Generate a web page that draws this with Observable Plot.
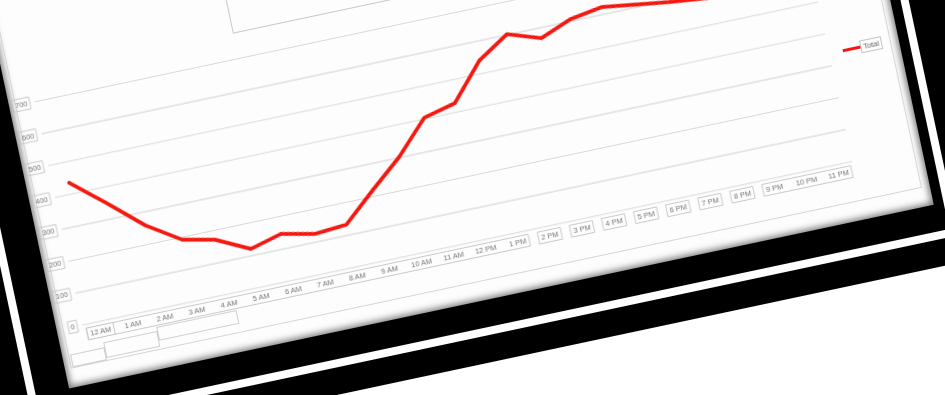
<!DOCTYPE html>
<html>
<head>
<meta charset="utf-8">
<script src="https://cdn.jsdelivr.net/npm/d3@7"></script>
<script src="https://cdn.jsdelivr.net/npm/@observablehq/plot@0.6"></script>
<style>
  html, body { margin: 0; padding: 0; background: #ffffff; }
  body { width: 945px; height: 395px; overflow: hidden; position: relative; }
  #scene { position: absolute; left: 84px; top: 324px; width: 2000px; height: 0;
           transform: rotate(-12deg); transform-origin: 0 0; filter: blur(0.45px); }
  .blk { position: absolute; }
</style>
</head>
<body>
<div id="scene"></div>
<script>
// ---- data ----
const hours = ["12 AM","1 AM","2 AM","3 AM","4 AM","5 AM","6 AM","7 AM","8 AM","9 AM","10 AM","11 AM",
               "12 PM","1 PM","2 PM","3 PM","4 PM","5 PM","6 PM","7 PM","8 PM","9 PM","10 PM","11 PM"];
const totals = [435, 349, 259, 193, 171, 121, 147, 125, 133, 219, 302, 404,
                428, 540, 602, 568, 607, 623, 609, 595, 585, 575, 565, 550];
const yTicks = [0, 100, 200, 300, 400, 500, 600, 700];
const seriesName = "Total";
// groups of x tick labels that share one outline box (indices into hours)
const xLabelGroups = [[0, 13], [0, 0], [14, 14], [15, 15], [16, 16], [17, 17], [18, 18], [19, 19], [20, 20], [21, 23]];

// ---- layout (local, rotated frame; origin = plot left edge at value 0) ----
const plotW = 787.2, plotH = 228.2;
const ML = 40, MR = 10, MT = 12, MB = 40;
const scene = document.getElementById("scene");

function box(l, t, r, b, style) {
  const d = document.createElement("div");
  d.className = "blk";
  d.style.left = l + "px"; d.style.top = t + "px";
  d.style.width = (r - l) + "px"; d.style.height = (b - t) + "px";
  Object.assign(d.style, style || {});
  scene.appendChild(d);
  return d;
}
// frame layers
box(-150, -700, 960, 122, {background: "#000"});
box(-70, -700, 874, 95, {background: "#fff"});
box(-62, -700, 866, 87, {background: "#000"});
box(-28, -700, 856, 60, {background: "#fdfdfd", boxShadow: "inset 0 0 7px 2px rgba(0,0,0,0.55)"});
box(-22, -400, 848, 41, {border: "1px solid #d6d6d6", boxSizing: "border-box"});
// bottom field-button boxes
box(-20, 27, 15, 40, {border: "1px solid #d0d0d0", boxSizing: "border-box"});
box(15, 22, 70, 38, {border: "1px solid #d0d0d0", boxSizing: "border-box"});
box(70, 18, 152, 32, {border: "1px solid #d0d0d0", boxSizing: "border-box"});
// chart title box (top, mostly out of view)
box(206, -330, 585, -253, {border: "1px solid #c8c8c8", boxSizing: "border-box", background: "#fdfdfd"});

// ---- plot ----
const data = hours.map((h, i) => ({hour: h, total: totals[i]}));
const chart = Plot.plot({
  width: ML + plotW + MR,
  height: MT + plotH + MB,
  marginLeft: ML, marginRight: MR, marginTop: MT, marginBottom: MB,
  style: {background: "transparent", fontFamily: "Liberation Sans", fontSize: "7.5px", color: "#7a7a7a", overflow: "visible", maxWidth: "none"},
  x: {type: "point", domain: hours, padding: 0.5, round: false, label: null},
  y: {domain: [0, 700], label: null},
  marks: [
    Plot.ruleY(yTicks, {stroke: "#d9d9d9", strokeWidth: 1.1}),
    Plot.axisY(yTicks, {tickSize: 0, tickPadding: 8, fill: "#777", label: null}),
    Plot.axisX({tickSize: 0, tickPadding: 7, fill: "#777", label: null}),
    Plot.line(data, {x: "hour", y: "total", stroke: "#f31810", strokeWidth: 3.8, strokeLinejoin: "round"})
  ]
});
chart.style.position = "absolute";
chart.style.maxWidth = "none";
chart.style.left = (-2.4 - ML) + "px";
chart.style.top = (-(MT + plotH)) + "px";
scene.appendChild(chart);

// outline boxes around tick labels
const NS = "http://www.w3.org/2000/svg";
function addRect(parent, x, y, w, h) {
  const r = document.createElementNS(NS, "rect");
  r.setAttribute("x", x); r.setAttribute("y", y);
  r.setAttribute("width", w); r.setAttribute("height", h);
  r.setAttribute("fill", "none"); r.setAttribute("stroke", "#c4c4c4"); r.setAttribute("stroke-width", 0.9);
  parent.appendChild(r);
}
function tbox(t) {
  const bb = t.getBBox();
  const ctm = t.transform.baseVal.consolidate();
  const tx = ctm ? ctm.matrix.e : 0, ty = ctm ? ctm.matrix.f : 0;
  return {x0: tx + bb.x, x1: tx + bb.x + bb.width, y0: ty + bb.y, y1: ty + bb.y + bb.height};
}
chart.querySelectorAll('g[aria-label="y-axis tick label"] text').forEach(t => {
  const b = tbox(t);
  addRect(t.parentNode, b.x0 - 2.5, b.y0 - 1.5, b.x1 - b.x0 + 5, b.y1 - b.y0 + 3);
});
const xTexts = Array.from(chart.querySelectorAll('g[aria-label="x-axis tick label"] text'));
const xb = xTexts.map(tbox);
if (xTexts.length) {
  const g = xTexts[0].parentNode;
  xLabelGroups.forEach(([a, b]) => {
    const x0 = xb[a].x0 - 3, x1 = xb[b].x1 + 3;
    const y0 = Math.min(xb[a].y0, xb[b].y0) - 1.5, y1 = Math.max(xb[a].y1, xb[b].y1) + 1.5;
    addRect(g, x0, y0, x1 - x0, y1 - y0);
  });
}

// ---- legend ----
const leg = document.createElement("div");
leg.className = "blk";
leg.style.left = "799px"; leg.style.top = "-116px";
leg.style.display = "flex"; leg.style.alignItems = "center";
leg.innerHTML = '<span style="display:inline-block;width:18px;height:3.4px;background:#f31810"></span>' +
  '<span style="font:7.5px \'Liberation Sans\';color:#666;border:1px solid #c4c4c4;padding:1px 2px;background:#fdfdfd">' + seriesName + '</span>';
scene.appendChild(leg);
</script>
</body>
</html>
